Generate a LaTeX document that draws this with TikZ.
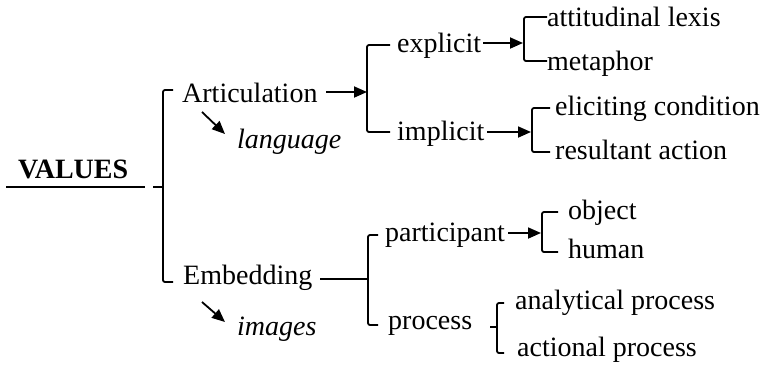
\documentclass[tikz,border=0pt]{standalone}
\usepackage{fontspec}
\setmainfont{Liberation Serif}
\usetikzlibrary{arrows.meta}
\begin{document}
\begin{tikzpicture}[x=1pt,y=-1pt,
  lbl/.style={inner sep=0pt,anchor=base west,font=\fontsize{28}{32}\selectfont},
  brk/.style={line width=1.8pt,rounded corners=2pt},
  arr/.style={line width=1.8pt,-{Triangle[length=13pt,width=11pt]}},
  ln/.style={line width=1.8pt}]
\useasboundingbox (0,0) rectangle (763,365);
% labels
\node[lbl,font=\fontsize{28}{32}\selectfont\bfseries] (values) at (18,178) {VALUES};
\node[lbl] (art) at (182,102) {Articulation};
\node[lbl,font=\fontsize{28}{32}\selectfont\itshape] (lang) at (237,148) {language};
\node[lbl] (expl) at (397,52) {explicit};
\node[lbl] (impl) at (397,140) {implicit};
\node[lbl] (att) at (547,26) {attitudinal lexis};
\node[lbl] (met) at (547,70) {metaphor};
\node[lbl] (eli) at (555,115) {eliciting condition};
\node[lbl] (res) at (555,159) {resultant action};
\node[lbl] (emb) at (183,284) {Embedding};
\node[lbl,font=\fontsize{28}{32}\selectfont\itshape] (img) at (237,335) {images};
\node[lbl] (part) at (385,241) {participant};
\node[lbl] (obj) at (568,219) {object};
\node[lbl] (hum) at (568,258) {human};
\node[lbl] (proc) at (388,329) {process};
\node[lbl] (ana) at (515,309) {analytical process};
\node[lbl] (act) at (517,356) {actional process};
% coordinates
\coordinate (ul0) at (6,187); \coordinate (ul1) at (145,187);
\coordinate (b1m) at (153,187);
\coordinate (a1s) at (326,92); \coordinate (a1e) at (367,92);
\coordinate (a2s) at (483,43); \coordinate (a2e) at (523,43);
\coordinate (a3s) at (487,132); \coordinate (a3e) at (531,132);
\coordinate (e1s) at (320,279); \coordinate (e1e) at (368,279);
\coordinate (a4s) at (508,233); \coordinate (a4e) at (541,233);
\coordinate (p1m) at (490,327);
\coordinate (d1s) at (202,112); \coordinate (d1e) at (225,134);
\coordinate (d2s) at (202,302); \coordinate (d2e) at (225,322);
% underline
\draw[ln] (ul0) -- (ul1);
% bracket 1
\draw[brk] (173,90) -- (163,90) -- (163,282) -- (173,282);
\draw[ln] (b1m) -- (163,187);
% bracket 2
\draw[brk] (390,45) -- (367,45) -- (367,132) -- (390,132);
\draw[arr] (a1s) -- (a1e);
% bracket 3
\draw[brk] (547,17) -- (524,17) -- (524,61) -- (547,61);
\draw[arr] (a2s) -- (a2e);
% bracket 4
\draw[brk] (550,108) -- (532,108) -- (532,152) -- (550,152);
\draw[arr] (a3s) -- (a3e);
% embedding bracket
\draw[ln] (e1s) -- (e1e);
\draw[brk] (378,235) -- (368,235) -- (368,325) -- (378,325);
% bracket 6
\draw[brk] (558,212) -- (542,212) -- (542,252) -- (558,252);
\draw[arr] (a4s) -- (a4e);
% bracket 7
\draw[brk] (504,303) -- (497,303) -- (497,353) -- (504,353);
\draw[ln] (p1m) -- (497,327);
% diagonal arrows
\draw[arr] (d1s) -- (d1e);
\draw[arr] (d2s) -- (d2e);
\end{tikzpicture}
\end{document}
